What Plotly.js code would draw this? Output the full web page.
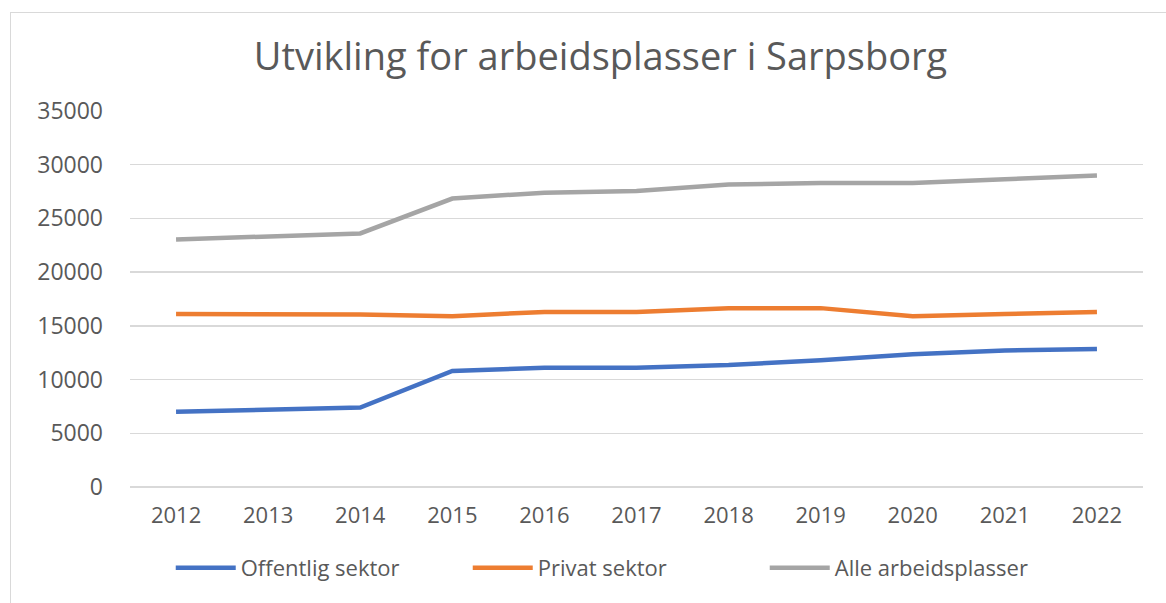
<!DOCTYPE html>
<html>
<head>
<meta charset="utf-8">
<script src="https://cdn.plot.ly/plotly-3.0.1.min.js"></script>
<style>
  html, body { margin: 0; padding: 0; background: #ffffff; }
  #wrap { position: relative; width: 1166px; height: 603px; overflow: hidden; }
  #frame { position: absolute; left: 10px; top: 12px; width: 1170px; height: 600px; border: 1.5px solid #d9d9d9; box-sizing: border-box; }
  #chart { position: absolute; left: 0; top: 0; width: 1166px; height: 603px; }
</style>
</head>
<body>
<div id="wrap">
  <div id="frame"></div>
  <div id="chart"></div>
</div>
<script>
const years = ["2012","2013","2014","2015","2016","2017","2018","2019","2020","2021","2022"];
const offentlig = [7000, 7150, 7400, 10800, 11100, 11100, 11350, 11800, 12350, 12700, 12850];
const privat = [16100, 16100, 16050, 15900, 16300, 16300, 16650, 16650, 15900, 16100, 16300];
const alle = [23050, 23350, 23600, 26850, 27400, 27550, 28150, 28300, 28300, 28650, 29000];

const seriesNames = ["Offentlig sektor", "Privat sektor", "Alle arbeidsplasser"];
const seriesColors = ["#4472C4", "#ED7D31", "#A5A5A5"];
const seriesValues = [offentlig, privat, alle];

const FONT = "'Open Sans', 'Noto Sans', sans-serif";
const traces = seriesValues.map((vals, i) => ({
  type: "scatter",
  mode: "lines",
  x: years,
  y: vals,
  name: seriesNames[i],
  line: { color: seriesColors[i], width: 4.5 }
}));

const layout = {
  width: 1166,
  height: 603,
  margin: { l: 130, r: 23, t: 111, b: 116 },
  paper_bgcolor: "rgba(0,0,0,0)",
  plot_bgcolor: "rgba(0,0,0,0)",
  font: { family: FONT, color: "#595959" },
  title: {
    text: "Utvikling for arbeidsplasser i Sarpsborg",
    font: { family: FONT, size: 38, color: "#595959" },
    x: 0.515, xanchor: "center",
    y: 1 - 57/603, yanchor: "middle", yref: "container"
  },
  xaxis: {
    type: "category",
    range: [-0.5, 10.5],
    showgrid: false,
    showline: false,
    zeroline: false,
    ticks: "",
    ticklabelstandoff: 13,
    tickfont: { family: FONT, size: 22, color: "#595959" }
  },
  yaxis: {
    range: [0, 35000],
    dtick: 5000,
    tick0: 0,
    showgrid: true,
    gridcolor: "#d9d9d9",
    gridwidth: 1.5,
    zeroline: true,
    zerolinecolor: "#d9d9d9",
    zerolinewidth: 1.5,
    showline: false,
    ticks: "",
    ticklabelstandoff: 26,
    tickformat: "d",
    tickfont: { family: FONT, size: 23, color: "#595959" }
  },
  showlegend: true,
  legend: {
    orientation: "h",
    x: 0.48, xanchor: "center",
    y: -0.215, yanchor: "middle",
    font: { family: FONT, size: 22, color: "#595959" },
    itemwidth: 60,
    entrywidth: 222,
    entrywidthmode: "pixels",
    tracegroupgap: 0
  }
};

Plotly.newPlot("chart", traces, layout, { staticPlot: true, displayModeBar: false });
</script>
</body>
</html>
